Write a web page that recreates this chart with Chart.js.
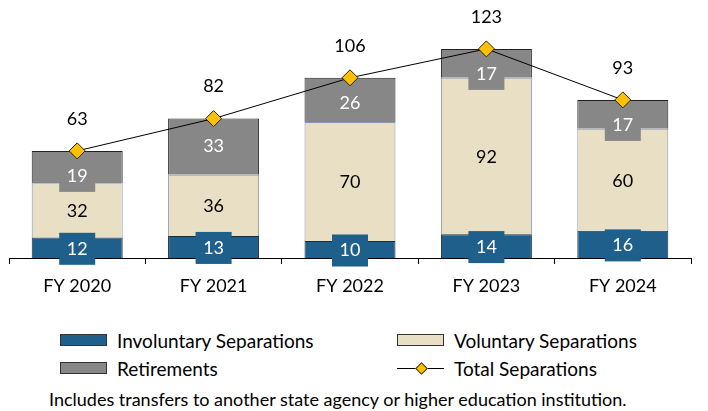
<!DOCTYPE html>
<html>
<head>
<meta charset="utf-8">
<script src="https://cdn.jsdelivr.net/npm/chart.js@4.4.1/dist/chart.umd.min.js"></script>
<style>
  body { margin: 0; background: #fff; font-family: Lato, "Noto Sans", sans-serif; }
  #wrap { position: relative; width: 708px; height: 411px; }
  #chartSep { position: absolute; left: 0; top: 0; }
  .legend-item { position: absolute; display: flex; align-items: center; font-size: 19px; color: #000; height: 22px; }
  .swatch { width: 45px; height: 10px; border: 1px solid #333; margin-right: 10px; }
  .line-swatch { position: relative; width: 47px; height: 12px; margin-right: 10px; }
  .line-swatch::before { content: ""; position: absolute; left: 0; right: 0; top: 6px; border-top: 1px solid #000; }
  .line-swatch::after { content: ""; position: absolute; left: 20px; top: 2px; width: 7px; height: 7px; background: #ffc000; border: 1px solid #333; transform: rotate(45deg); }
  #note { position: absolute; left: 49px; top: 388px; font-size: 18px; color: #000; }
</style>
</head>
<body>
<div id="wrap">
  <canvas id="chartSep" width="708" height="310"></canvas>
  <div id="legend"></div>
  <div id="note">Includes transfers to another state agency or higher education institution.</div>
</div>
<script>
const years = ['FY 2020', 'FY 2021', 'FY 2022', 'FY 2023', 'FY 2024'];
const involuntary = [12, 13, 10, 14, 16];
const voluntary = [32, 36, 70, 92, 60];
const retirements = [19, 33, 26, 17, 17];
const totals = [63, 82, 106, 123, 93];
const seriesNames = ['Involuntary Separations', 'Voluntary Separations', 'Retirements', 'Total Separations'];

const BLUE = '#1f5f8b';
const BEIGE = '#e9dfc4';
const GRAY = '#878787';
const FONT = 'Lato, "Noto Sans", sans-serif';

// labels on the segments, with the little boxes excel puts behind them
const segLabels = {
  id: 'segLabels',
  afterDatasetsDraw(chart) {
    const c = chart.ctx;
    c.save();
    c.font = '18px ' + FONT;
    c.textAlign = 'center';
    c.textBaseline = 'middle';

    function box(x, y, fill) {
      c.fillStyle = fill;
      c.fillRect(x - 18, y - 16, 36, 32);
    }

    chart.getDatasetMeta(0).data.forEach((bar, i) => {
      const y = (bar.y + bar.base) / 2 + 1;
      box(bar.x, y, BLUE);
      c.fillStyle = '#fff';
      c.fillText(involuntary[i], bar.x, y);
    });
    chart.getDatasetMeta(1).data.forEach((bar, i) => {
      c.fillStyle = '#000';
      c.fillText(voluntary[i], bar.x, (bar.y + bar.base) / 2 + 1);
    });
    chart.getDatasetMeta(2).data.forEach((bar, i) => {
      const y = Math.max((bar.y + bar.base) / 2, bar.y + 25);
      box(bar.x, y, GRAY);
      c.fillStyle = '#fff';
      c.fillText(retirements[i], bar.x, y);
    });
    chart.getDatasetMeta(3).data.forEach((pt, i) => {
      c.fillStyle = '#000';
      c.fillText(totals[i], pt.x, pt.y - 32);
    });
    c.restore();
  }
};

const chart = new Chart(document.getElementById('chartSep').getContext('2d'), {
  data: {
    labels: years,
    datasets: [
      { type: 'bar', label: seriesNames[0], data: involuntary, backgroundColor: BLUE, borderColor: '#1a2a3a', borderWidth: 1, order: 1, stack: 'bars' },
      { type: 'bar', label: seriesNames[1], data: voluntary, backgroundColor: BEIGE, borderColor: '#8496b0', borderWidth: 1, order: 1, stack: 'bars' },
      { type: 'bar', label: seriesNames[2], data: retirements, backgroundColor: GRAY, borderColor: '#222', borderWidth: 1, order: 1, stack: 'bars' },
      {
        type: 'line', label: seriesNames[3], data: totals, stack: 'total', order: 0,
        borderColor: '#000', borderWidth: 1, tension: 0,
        pointStyle: 'rectRot', pointRadius: 8, pointBackgroundColor: '#ffc000',
        pointBorderColor: '#222', pointBorderWidth: 1
      }
    ]
  },
  options: {
    responsive: false,
    animation: false,
    layout: { padding: { left: 9, right: 17, top: 20, bottom: 12 } },
    datasets: { bar: { barPercentage: 0.667, categoryPercentage: 1 } },
    plugins: { legend: { display: false }, tooltip: { enabled: false } },
    scales: {
      x: {
        stacked: true,
        border: { display: true, color: '#000', width: 1 },
        grid: { display: true, drawOnChartArea: false, drawTicks: true, tickLength: 6, color: '#000', offset: true },
        ticks: { color: '#000', font: { family: FONT, size: 18 }, padding: 11 },
        afterFit: s => { s.height = 40; }
      },
      y: {
        display: false,
        stacked: true,
        min: 0,
        max: 140
      }
    }
  },
  plugins: [segLabels]
});

// legend in two columns under the chart
const legend = document.getElementById('legend');
const legendSpots = [[60, 329], [397, 329], [60, 357], [397, 357]];
chart.data.datasets.forEach((ds, i) => {
  const item = document.createElement('div');
  item.className = 'legend-item';
  item.style.left = legendSpots[i][0] + 'px';
  item.style.top = legendSpots[i][1] + 'px';
  const sw = document.createElement('span');
  if (ds.type === 'line') {
    sw.className = 'line-swatch';
  } else {
    sw.className = 'swatch';
    sw.style.background = ds.backgroundColor;
  }
  item.appendChild(sw);
  item.appendChild(document.createTextNode(ds.label));
  legend.appendChild(item);
});
</script>
</body>
</html>
